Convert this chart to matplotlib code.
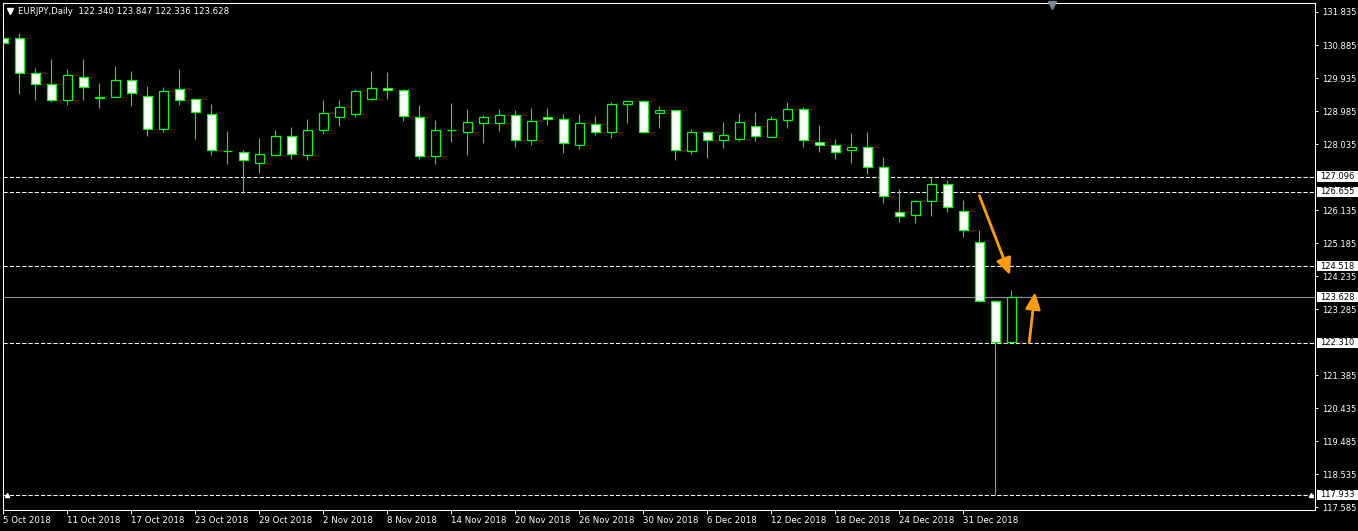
import numpy as np
import matplotlib
matplotlib.use('Agg')
import matplotlib.pyplot as plt
from matplotlib.patches import Rectangle
from matplotlib.transforms import blended_transform_factory

# EURJPY daily bars 5 Oct 2018 .. 4 Jan 2019
opens = [131.08, 131.08, 130.07, 129.75, 129.29, 129.96, 129.37, 129.40, 129.87, 129.41,
         128.46, 129.61, 129.32, 128.89, 127.83, 127.80, 127.48, 127.73, 128.26, 127.73,
         128.43, 128.80, 128.89, 129.34, 129.64, 129.58, 128.80, 127.68, 128.43, 128.39,
         128.65, 128.65, 128.86, 128.16, 128.80, 128.75, 128.00, 128.60, 128.39, 129.18,
         129.26, 128.92, 129.00, 127.84, 128.37, 128.16, 128.19, 128.55, 128.25, 128.74,
         129.03, 128.08, 128.00, 127.85, 127.94, 127.37, 126.07, 126.00, 126.39, 126.88,
         126.10, 125.22, 123.51, 122.340]
highs = [131.41, 131.24, 130.21, 130.48, 130.19, 130.48, 129.78, 130.28, 130.14, 129.70,
         129.67, 130.19, 129.34, 129.19, 128.41, 127.86, 128.22, 128.44, 128.52, 128.76,
         129.30, 129.30, 129.61, 130.14, 130.11, 129.61, 129.15, 128.73, 129.21, 129.04,
         128.87, 129.04, 129.01, 129.07, 129.07, 128.90, 128.90, 128.84, 129.24, 129.27,
         129.27, 129.13, 129.01, 128.47, 128.41, 128.67, 128.93, 128.96, 128.84, 129.24,
         129.10, 128.58, 128.18, 128.35, 128.38, 127.66, 126.74, 126.42, 127.08, 127.00,
         126.42, 125.55, 123.55, 123.847]
lows = [130.55, 129.47, 129.30, 129.25, 129.16, 129.30, 129.08, 129.38, 129.13, 128.27,
        128.39, 129.16, 128.19, 127.72, 127.47, 126.62, 127.21, 127.70, 127.61, 127.58,
        128.33, 128.56, 128.82, 129.30, 129.33, 128.71, 127.61, 127.47, 128.10, 127.72,
        128.07, 128.41, 127.96, 128.02, 128.59, 127.79, 127.90, 128.30, 128.22, 128.65,
        128.36, 128.50, 127.58, 127.76, 127.64, 127.93, 128.13, 128.13, 128.24, 128.50,
        127.96, 127.81, 127.61, 127.50, 127.18, 126.35, 125.80, 125.77, 125.97, 126.09,
        125.37, 123.50, 117.933, 122.336]
closes = [130.95, 130.07, 129.75, 129.30, 130.01, 129.67, 129.38, 129.87, 129.50, 128.46,
          129.56, 129.29, 128.95, 127.85, 127.84, 127.57, 127.74, 128.26, 127.74, 128.43,
          128.92, 129.09, 129.55, 129.64, 129.58, 128.83, 127.68, 128.43, 128.44, 128.66,
          128.80, 128.86, 128.16, 128.69, 128.75, 128.06, 128.63, 128.39, 129.18, 129.26,
          128.39, 129.01, 127.87, 128.37, 128.16, 128.29, 128.66, 128.26, 128.75, 129.03,
          128.16, 128.00, 127.80, 127.94, 127.37, 126.55, 125.95, 126.39, 126.88, 126.23,
          125.55, 123.51, 122.35, 123.628]

date_labels = ['5 Oct 2018', '11 Oct 2018', '17 Oct 2018', '23 Oct 2018', '29 Oct 2018',
               '2 Nov 2018', '8 Nov 2018', '14 Nov 2018', '20 Nov 2018', '26 Nov 2018',
               '30 Nov 2018', '6 Dec 2018', '12 Dec 2018', '18 Dec 2018', '24 Dec 2018',
               '31 Dec 2018']
price_ticks = [117.585, 118.535, 119.485, 120.435, 121.385, 123.285, 124.235,
               125.185, 126.135, 128.035, 128.985, 129.935, 130.885, 131.835]
level_lines = [127.096, 126.655, 124.518, 122.310, 117.933]
bid_price = 123.628
header = 'EURJPY,Daily  122.340 123.847 122.336 123.628'

# hand drawn arrows (bar index, price)
arrow_from = [(60.99, 126.55), (64.11, 122.33)]
arrow_to = [(62.91, 124.26), (64.47, 123.77)]

W, H = 1358, 531
green = '#00ff00'
orange = '#ff9c0a'
plt.rcParams['font.family'] = ['DejaVu Sans']

fig = plt.figure(figsize=(W / 100, H / 100), dpi=100, facecolor='black')
ax = fig.add_axes([3 / W, 1 - 510 / H, (1315 - 3) / W, (510 - 3) / H])
ax.set_facecolor('black')
ax.set_xlim(-0.03, 81.97)
ax.set_ylim(117.50, 132.094)

# levels and bid line
for lv in level_lines:
    ax.axhline(lv, color='white', lw=0.75, ls=(0, (4, 2)), zorder=1)
ax.axhline(bid_price, color='#8a919c', lw=0.8, zorder=1)

# candles
x = np.arange(len(opens))
ax.vlines(x, lows, highs, color=green, lw=0.8, zorder=2)
for i in x:
    o, c = opens[i], closes[i]
    fc = 'black' if c >= o else 'white'
    h = max(abs(c - o), 0.0001)
    ax.add_patch(Rectangle((i - 0.29, min(o, c)), 0.58, h, fc=fc, ec=green,
                           lw=0.9, zorder=3))

# markers at the ends of the lowest line
ax.plot([0.2, 81.75], [117.933, 117.933], ls='none', marker='^', ms=3,
        color='white', zorder=4, clip_on=False)

# arrows
for (x0, y0), (x1, y1) in zip(arrow_from, arrow_to):
    ax.annotate('', xy=(x1, y1), xytext=(x0, y0),
                arrowprops=dict(arrowstyle='-|>,head_length=1.0,head_width=0.45',
                                color=orange, lw=2.0, shrinkA=0, shrinkB=0,
                                mutation_scale=10), zorder=5)

# axes styling
for s in ax.spines.values():
    s.set_color('white')
    s.set_linewidth(0.75)
ax.yaxis.tick_right()
ax.set_yticks(price_ticks)
ax.set_yticklabels([f'{p:.3f}' for p in price_ticks])
ax.tick_params(axis='y', colors='white', length=2.5, width=0.7, pad=2.5, labelsize=6)
ax.set_xticks(x[::4])
ax.set_xticklabels(date_labels)
ax.tick_params(axis='x', colors='white', length=3, width=0.7, pad=1, labelsize=6.2)
for lab in ax.get_xticklabels():
    lab.set_ha('left')

# boxed price labels on the right scale
trans = blended_transform_factory(fig.transFigure, ax.transData)
for v in level_lines + [bid_price]:
    ax.add_patch(Rectangle((1316.5 / W, v - 0.15), 1 - 1316.5 / W, 0.30,
                           transform=trans, fc='white', ec='none', clip_on=False, zorder=6))
    ax.text(1320.5 / W, v, f'{v:.3f}', transform=trans, color='black', fontsize=6,
            va='center', ha='left', clip_on=False, zorder=7)

# header and chart-shift marker
fig.text(18 / W, 1 - 11 / H, header, color='white', fontsize=6.2, va='center', ha='left')
fig.add_artist(plt.Line2D([9.5 / W], [1 - 10.5 / H], marker='v', ms=4, color='white',
                          transform=fig.transFigure))
fig.add_artist(plt.Line2D([1051.7 / W], [1 - 5 / H], marker='v', ms=6, color='#778899',
                          transform=fig.transFigure))

fig.savefig('out.png', dpi=100, facecolor='black')
